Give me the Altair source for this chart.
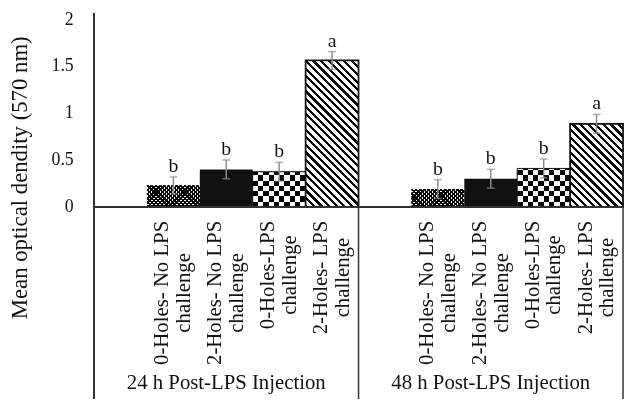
import math
import altair as alt
import pandas as pd

# ---------------- data ----------------
groups = ["24 h Post-LPS Injection", "48 h Post-LPS Injection"]
group_keys = ["24h", "48h"]
cond_line1 = ["0-Holes- No LPS", "2-Holes- No LPS", "0-Holes-LPS", "2-Holes- LPS"]
cond_line2 = ["challenge", "challenge", "challenge", "challenge"]
means_24 = [0.23, 0.40, 0.375, 1.56]
means_48 = [0.19, 0.30, 0.41, 0.885]
err_24 = [0.09, 0.10, 0.10, 0.095]
err_48 = [0.10, 0.10, 0.10, 0.10]
letters_24 = ["b", "b", "b", "a"]
letters_48 = ["b", "b", "b", "a"]
y_ticks = [0, 0.5, 1, 1.5, 2]
y_title = "Mean optical dendity (570 nm)"

# ---------------- layout / style ----------------
FONT = "Liberation Serif"
TOP = 9
W, H = 535, 190
YMAX = 2
slots = []
for gk in group_keys:
    slots.append(gk + "|-")
    slots += [f"{gk}|{i}" for i in range(len(cond_line1))]
BAND = W / len(slots)
PX_PER_UNIT = H / YMAX

rows = []
for gk, g, ms, es, ls in zip(group_keys, groups, [means_24, means_48], [err_24, err_48], [letters_24, letters_48]):
    for i, (m, e, l) in enumerate(zip(ms, es, ls)):
        rows.append(dict(slot=f"{gk}|{i}", group=g, cond=i, mean=m, lo=m - e, hi=m + e, letter=l,
                         line1=cond_line1[i], line2=cond_line2[i]))
df = pd.DataFrame(rows)

# Times/Liberation Serif advance widths (em) for label layout
EM = {'0': .5, '2': .5, '-': .333, 'H': .722, 'o': .5, 'l': .278, 'e': .444, 's': .389, ' ': .25,
      'N': .722, 'L': .611, 'P': .556, 'S': .556, 'c': .444, 'h': .5, 'a': .444, 'n': .5, 'g': .5}
LABEL_FS = 21
LABEL_TOP = 213 - TOP
df["line2_y"] = [LABEL_TOP + sum(EM.get(ch, .5) for ch in t) * LABEL_FS / 2 for t in df["line1"]]

xscale = alt.Scale(domain=slots, paddingInner=0, paddingOuter=0)
yscale = alt.Scale(domain=[0, YMAX], nice=False)
yaxis = alt.Axis(values=y_ticks, format="~g", ticks=False, domain=False, grid=False,
                 labelFont=FONT, labelFontSize=18, labelColor="#111", labelPadding=21,
                 title=y_title, titleFont=FONT, titleFontSize=23, titleFontWeight="normal",
                 titleColor="#111", titleAngle=270, titleX=-75, titleY=177 - 8 - TOP,
                 titleAlign="center", titleBaseline="middle")


def X(**kw):
    return alt.X("slot:N", scale=xscale, axis=None, **kw)


def Y(field):
    return alt.Y(field, scale=yscale, axis=yaxis)


def stripe_stops(total, period, frac, phase=0.0):
    out = []
    s = -period + (phase % period)
    while s < total:
        for a, b, col in [(s, s + frac * period, "black"), (s + frac * period, s + period, "white")]:
            lo, hi = max(a, 0.0), min(b, total)
            if hi > lo:
                out.append((lo / total, col))
                out.append((hi / total, col))
        s += period
    return [alt.GradientStop(offset=round(o, 5), color=c) for o, c in out]


def diag_grad(w, h, period, frac, direction):
    t = (w + h) / (w * w + h * h)
    stops = stripe_stops(w + h, period, frac)
    if direction == "back":  # "\" stripes
        return alt.LinearGradient(gradient="linear", x1=0, y1=1, x2=round(t * w, 5), y2=round(1 - t * h, 5), stops=stops)
    return alt.LinearGradient(gradient="linear", x1=0, y1=0, x2=round(t * w, 5), y2=round(t * h, 5), stops=stops)


def straight_grad(total, period, frac, vertical):
    stops = stripe_stops(total, period, frac)
    if vertical:
        return alt.LinearGradient(gradient="linear", x1=0, y1=1, x2=0, y2=0, stops=stops)
    return alt.LinearGradient(gradient="linear", x1=0, y1=0, x2=1, y2=0, stops=stops)


base = alt.Chart(df)
layers = []


def bar_layer(slot, fill, blend=None, **kw):
    mk = dict(fill=fill)
    if blend:
        mk["blend"] = blend
    mk.update(kw)
    return base.transform_filter(alt.datum.slot == slot).mark_bar(**mk).encode(X(), Y("mean:Q"))


for _, r in df.iterrows():
    h = r["mean"] * PX_PER_UNIT
    if r["cond"] == 0:  # fine cross-hatch
        layers.append(bar_layer(r["slot"], diag_grad(BAND, h, 4.2, 0.55, "fwd")))
        layers.append(bar_layer(r["slot"], diag_grad(BAND, h, 4.2, 0.55, "back"), blend="multiply"))
    elif r["cond"] == 1:  # solid black
        layers.append(bar_layer(r["slot"], "#111111"))
    elif r["cond"] == 2:  # checkerboard
        layers.append(bar_layer(r["slot"], straight_grad(h, 10.7, 0.5, True)))
        layers.append(bar_layer(r["slot"], straight_grad(BAND, 10.7, 0.5, False), blend="difference"))
        layers.append(bar_layer(r["slot"], None, filled=False, stroke="#111", strokeWidth=1))
    else:  # diagonal stripes
        layers.append(bar_layer(r["slot"], diag_grad(BAND, h, 7.7, 0.42, "back")))
        layers.append(bar_layer(r["slot"], None, filled=False, stroke="#111", strokeWidth=1.8))

# error bars
layers.append(base.mark_rule(color="#8c8c8c", strokeWidth=1.5).encode(X(), Y("lo:Q"), alt.Y2("hi:Q")))
layers.append(base.mark_tick(color="#8c8c8c", thickness=1.5, size=8).encode(X(), Y("hi:Q")))
layers.append(base.mark_tick(color="#8c8c8c", thickness=1.5, size=8).encode(X(), Y("lo:Q")))

# significance letters
layers.append(base.mark_text(font=FONT, fontSize=20, color="#111", baseline="alphabetic", dy=-5).encode(
    X(), Y("hi:Q"), text="letter:N"))

BOTTOM = 400 - TOP
# axis lines
layers.append(base.mark_rule(color="#333", strokeWidth=1.5).encode(
    y=alt.datum(0, scale=yscale, axis=yaxis), x=alt.value(0), x2=alt.value(W)))
layers.append(base.mark_rule(color="#333", strokeWidth=1.5).encode(
    x=alt.value(0), y=alt.value(-6), y2=alt.value(BOTTOM)))

# group separators below the baseline
sep_df = pd.DataFrame({"slot": [group_keys[1] + "|-", slots[-1]], "pos": [0, 1]})
layers.append(alt.Chart(sep_df).transform_filter(alt.datum.pos == 0).mark_rule(color="#333", strokeWidth=1.5).encode(
    X(bandPosition=0), y=alt.datum(0, scale=yscale, axis=yaxis), y2=alt.value(BOTTOM)))
layers.append(alt.Chart(sep_df).transform_filter(alt.datum.pos == 1).mark_rule(color="#333", strokeWidth=1.5).encode(
    X(bandPosition=1), y=alt.datum(0, scale=yscale, axis=yaxis), y2=alt.value(BOTTOM)))

# category labels (rotated, two lines)
layers.append(base.mark_text(font=FONT, fontSize=LABEL_FS, color="#111", angle=270, align="right",
                             baseline="middle", dy=-11).encode(
    X(), y=alt.value(LABEL_TOP), text="line1:N"))
layers.append(base.mark_text(font=FONT, fontSize=LABEL_FS, color="#111", angle=270, align="center",
                             baseline="middle", dy=11).encode(
    X(), alt.Y("line2_y:Q", scale=None), text="line2:N"))

# group labels
grp_df = pd.DataFrame({"slot": [f"{gk}|1" for gk in group_keys], "label": groups})
layers.append(alt.Chart(grp_df).mark_text(font=FONT, fontSize=21, color="#111", baseline="middle").encode(
    X(), y=alt.value(377 - TOP), text="label:N"))

chart = alt.layer(*layers).properties(
    width=W, height=H,
    padding={"left": 87, "top": TOP, "right": 2, "bottom": 391 - TOP - H},
    autosize=alt.AutoSizeParams(type="none"),
    background="white",
).configure_view(stroke=None)

chart.save("out.html", embed_options={"renderer": "svg", "actions": False})
